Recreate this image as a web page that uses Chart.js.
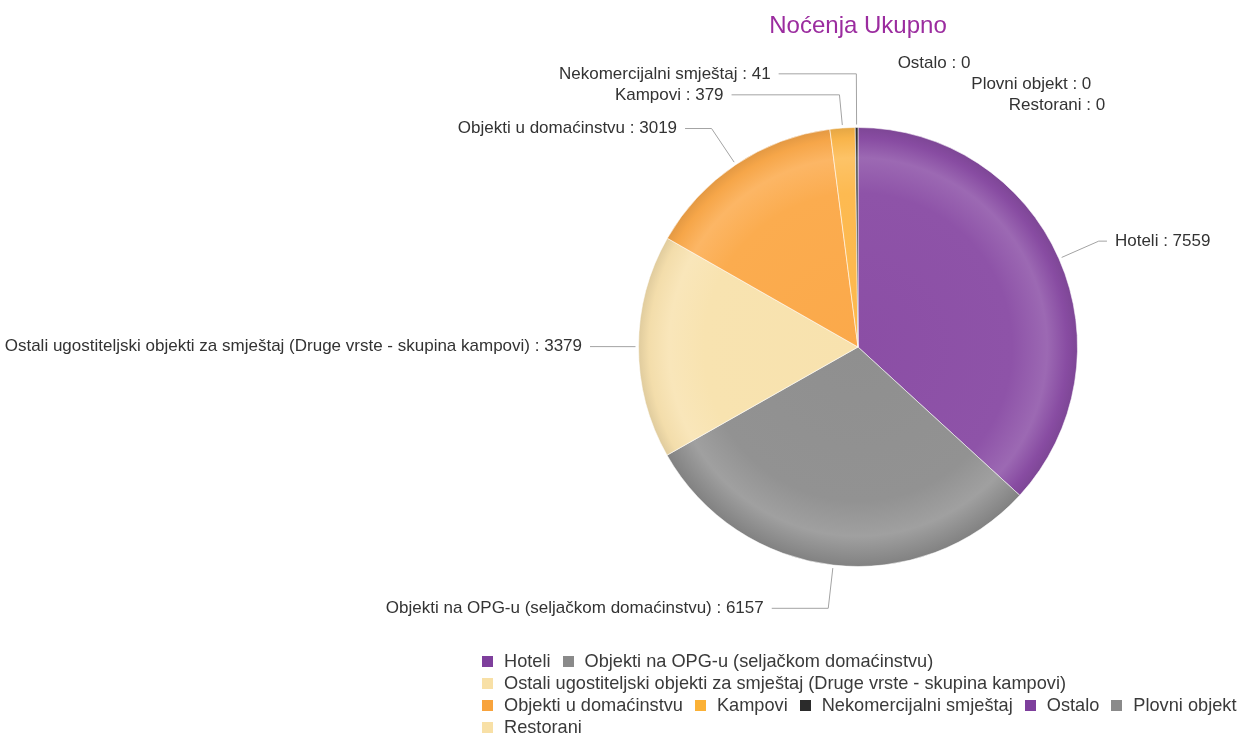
<!DOCTYPE html>
<html>
<head>
<meta charset="utf-8">
<script src="https://cdn.jsdelivr.net/npm/chart.js@4/dist/chart.umd.min.js"></script>
<style>
  html, body { margin: 0; padding: 0; background: #ffffff; }
  #wrap { position: relative; width: 1242px; height: 734px; overflow: hidden; }
  #chart { position: absolute; left: 0; top: 0; }
  #legend {
    position: absolute; left: 482px; top: 650px; width: 768px;
    display: flex; flex-wrap: wrap; column-gap: 12px;
    font-family: "Liberation Sans", Arial, sans-serif; font-size: 18.2px;
    line-height: 22px; color: #3a3a3a;
  }
  .li { display: flex; align-items: center; white-space: nowrap; }
  .sw { width: 11px; height: 11px; margin-right: 11px; flex: none; }
</style>
</head>
<body>
<div id="wrap">
  <canvas id="chart" width="1242" height="734"></canvas>
  <div id="legend"></div>
</div>
<script>
// ---- data ----
const titleText = 'Noćenja Ukupno';
const categories = [
  'Hoteli',
  'Objekti na OPG-u (seljačkom domaćinstvu)',
  'Ostali ugostiteljski objekti za smještaj (Druge vrste - skupina kampovi)',
  'Objekti u domaćinstvu',
  'Kampovi',
  'Nekomercijalni smještaj',
  'Ostalo',
  'Plovni objekt',
  'Restorani'
];
const values = [7559, 6157, 3379, 3019, 379, 41, 0, 0, 0];

// ---- styles ----
const sliceColors = ['#8b4ea5', '#8f8f8f', '#f8e2ae', '#fba94a', '#fdb84c', '#333333', '#8b4ea5', '#8f8f8f', '#f8e2ae'];
const legendColors = ['#7e3f9c', '#8a8a8a', '#f8e0a6', '#f8a33c', '#fbb136', '#2b2b2b', '#7e3f9c', '#8a8a8a', '#f8e0a6'];
const labelFont = '17px "Liberation Sans", Arial, sans-serif';

function shade(hex, amt) {
  const n = parseInt(hex.slice(1), 16);
  let r = n >> 16, g = (n >> 8) & 255, b = n & 255;
  if (amt >= 0) { r += (255 - r) * amt; g += (255 - g) * amt; b += (255 - b) * amt; }
  else { r *= (1 + amt); g *= (1 + amt); b *= (1 + amt); }
  return 'rgb(' + Math.round(r) + ',' + Math.round(g) + ',' + Math.round(b) + ')';
}

function sliceFill(ctx) {
  const chart = ctx.chart;
  const area = chart.chartArea;
  const base = sliceColors[ctx.dataIndex];
  if (!area) return base;
  const cx = (area.left + area.right) / 2, cy = (area.top + area.bottom) / 2;
  const r = Math.min(area.width, area.height) / 2;
  const g = chart.ctx.createRadialGradient(cx, cy, 0, cx, cy, r);
  g.addColorStop(0, base);
  g.addColorStop(0.70, shade(base, 0.03));
  g.addColorStop(0.86, shade(base, 0.15));
  g.addColorStop(0.95, shade(base, -0.02));
  g.addColorStop(1, shade(base, -0.10));
  return g;
}

// ---- outside labels with leader lines ----
const outLabels = {
  id: 'outLabels',
  afterDraw(chart) {
    const meta = chart.getDatasetMeta(0);
    if (!meta.data.length) return;
    const a0 = meta.data[0];
    const cx = a0.x, cy = a0.y, r = a0.outerRadius;
    const R2 = r + 43.5, rx = r + 48.5, gap = 21;
    const items = meta.data.map((arc, i) => {
      const mid = (arc.startAngle + arc.endAngle) / 2;
      const dx = Math.cos(mid), dy = Math.sin(mid);
      const side = dx < -1e-6 ? -1 : 1;
      return { i, dx, dy, side, nx: cx + R2 * dx, ny: cy + R2 * dy };
    });
    [-1, 1].forEach(s => {
      const list = items.filter(it => it.side === s).sort((a, b) => a.ny - b.ny);
      let groups = list.map(it => ({ items: [it], top: it.ny }));
      let changed = true;
      while (changed) {
        changed = false;
        for (let k = 0; k < groups.length - 1; k++) {
          const g1 = groups[k], g2 = groups[k + 1];
          if (g1.top + g1.items.length * gap > g2.top) {
            const its = g1.items.concat(g2.items);
            let sum = 0;
            its.forEach((it, j) => { sum += it.ny - j * gap; });
            groups.splice(k, 2, { items: its, top: sum / its.length });
            changed = true;
            break;
          }
        }
      }
      groups.forEach(g => g.items.forEach((it, j) => { it.y = g.top + j * gap; }));
    });
    const ctx = chart.ctx;
    ctx.save();
    ctx.font = labelFont;
    ctx.textBaseline = 'middle';
    items.forEach(it => {
      const ry = it.y > cy ? r + 56.5 : r + 66.5;
      const t = (it.y - cy) / ry;
      const ell = rx * Math.sqrt(Math.max(0, 1 - t * t));
      const ext = Math.max(ell, Math.abs(it.nx - cx) + 4);
      const tx = cx + it.side * ext;
      if (values[it.i] > 0) {
        ctx.strokeStyle = '#a3a3a3';
        ctx.lineWidth = 1;
        ctx.beginPath();
        ctx.moveTo(cx + (r + 3) * it.dx, cy + (r + 3) * it.dy);
        ctx.lineTo(it.nx, it.y);
        ctx.lineTo(tx, it.y);
        ctx.stroke();
      }
      ctx.fillStyle = '#333333';
      ctx.textAlign = it.side > 0 ? 'left' : 'right';
      ctx.fillText(categories[it.i] + ' : ' + values[it.i], tx + it.side * 8, it.y);
    });
    ctx.restore();
  }
};

new Chart(document.getElementById('chart'), {
  type: 'pie',
  data: {
    labels: categories,
    datasets: [{
      data: values,
      backgroundColor: sliceFill,
      borderColor: 'rgba(255,255,255,0.55)',
      borderWidth: (c) => (values[c.dataIndex] > 0 ? 1 : 0)
    }]
  },
  options: {
    responsive: false,
    animation: false,
    devicePixelRatio: 1,
    layout: { padding: { left: 600, right: 126, top: 0, bottom: 167 } },
    plugins: {
      legend: { display: false },
      tooltip: { enabled: false },
      title: {
        display: true,
        text: titleText,
        color: '#9b2c9f',
        font: { family: '"Liberation Sans", Arial, sans-serif', size: 24, weight: 'normal' },
        padding: { top: 12, bottom: 86.2 }
      }
    }
  },
  plugins: [outLabels]
});

// ---- HTML legend built from the same arrays ----
const legendEl = document.getElementById('legend');
categories.forEach((name, i) => {
  const item = document.createElement('div');
  item.className = 'li';
  const sw = document.createElement('span');
  sw.className = 'sw';
  sw.style.background = legendColors[i];
  const tx = document.createElement('span');
  tx.textContent = name;
  item.appendChild(sw);
  item.appendChild(tx);
  legendEl.appendChild(item);
});
</script>
</body>
</html>
